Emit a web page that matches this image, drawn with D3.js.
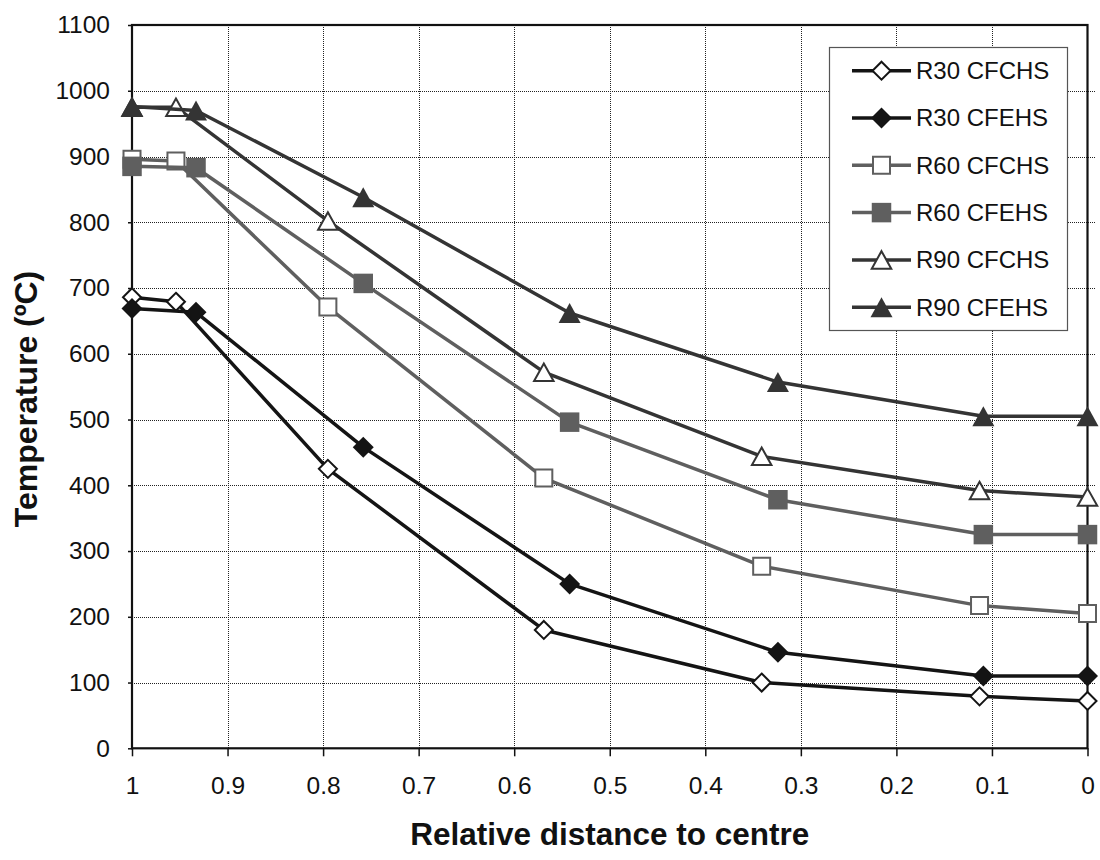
<!DOCTYPE html>
<html>
<head>
<meta charset="utf-8">
<script src="https://cdn.jsdelivr.net/npm/d3@7"></script>
<style>
  body { margin: 0; background: #fff; }
  svg { display: block; font-family: "Liberation Sans", Arial, sans-serif; }
</style>
</head>
<body>
<svg id="chart" width="1100" height="860"></svg>
<script>
// x positions of the measuring points (relative distance to centre)
var xCFCHS = [1, 0.954, 0.795, 0.569, 0.341, 0.113, 0];
var xCFEHS = [1, 0.933, 0.758, 0.542, 0.324, 0.109, 0];

// temperatures (ºC)
var r30CFCHS = [686, 679, 425, 180, 100, 79, 72];
var r30CFEHS = [669, 663, 458, 250, 146, 110, 110];
var r60CFCHS = [896, 893, 671, 411, 277, 217, 205];
var r60CFEHS = [885, 883, 707, 496, 378, 325, 325];
var r90CFCHS = [975, 975, 802, 572, 444, 392, 382];
var r90CFEHS = [976, 970, 838, 662, 557, 505, 505];

var seriesNames = ["R30 CFCHS", "R30 CFEHS", "R60 CFCHS", "R60 CFEHS", "R90 CFCHS", "R90 CFEHS"];

var xTicks = [1, 0.9, 0.8, 0.7, 0.6, 0.5, 0.4, 0.3, 0.2, 0.1, 0];
var yTicks = [0, 100, 200, 300, 400, 500, 600, 700, 800, 900, 1000, 1100];

var series = [
    {name: seriesNames[0], xs: xCFCHS, ys: r30CFCHS, color: "#141414", marker: "diamond", filled: false},
    {name: seriesNames[1], xs: xCFEHS, ys: r30CFEHS, color: "#141414", marker: "diamond", filled: true},
    {name: seriesNames[2], xs: xCFCHS, ys: r60CFCHS, color: "#5f5f5f", marker: "square", filled: false},
    {name: seriesNames[3], xs: xCFEHS, ys: r60CFEHS, color: "#5f5f5f", marker: "square", filled: true},
    {name: seriesNames[4], xs: xCFCHS, ys: r90CFCHS, color: "#343434", marker: "triangle", filled: false},
    {name: seriesNames[5], xs: xCFEHS, ys: r90CFEHS, color: "#343434", marker: "triangle", filled: true}
];

var svg = d3.select("#chart"),
    plotLeft = 132, plotRight = 1087.5, plotTop = 25, plotBottom = 748.3;

var x = d3.scaleLinear().domain([1, 0]).range([plotLeft, plotRight]);
var y = d3.scaleLinear().domain([0, 1100]).range([plotBottom, plotTop]);

// gridlines (snapped to the pixel grid so the dots stay sharp)
var grid = svg.append("g")
    .attr("stroke", "#222")
    .attr("stroke-width", 1)
    .attr("stroke-dasharray", "1,1")
    .attr("shape-rendering", "crispEdges");

grid.selectAll(".hgrid")
    .data(yTicks.slice(1, -1))
    .enter().append("line")
    .attr("x1", plotLeft)
    .attr("x2", plotRight + 8)
    .attr("y1", function (d) { return Math.round(y(d)) + 0.5; })
    .attr("y2", function (d) { return Math.round(y(d)) + 0.5; });

grid.selectAll(".vgrid")
    .data(xTicks.slice(1, -1))
    .enter().append("line")
    .attr("y1", plotTop)
    .attr("y2", plotBottom)
    .attr("x1", function (d) { return Math.round(x(d)) + 0.5; })
    .attr("x2", function (d) { return Math.round(x(d)) + 0.5; });

// axes
var xAxis = d3.axisBottom(x)
    .tickValues(xTicks)
    .tickFormat(function (d) { return String(d); })
    .tickSize(8)
    .tickSizeOuter(0)
    .tickPadding(20);

var yAxis = d3.axisLeft(y)
    .tickValues(yTicks)
    .tickFormat(function (d) { return String(d); })
    .tickSize(4)
    .tickSizeOuter(0)
    .tickPadding(18);

var gx = svg.append("g")
    .attr("transform", "translate(0," + plotBottom + ")")
    .call(xAxis);

var gy = svg.append("g")
    .attr("transform", "translate(" + plotLeft + ",0)")
    .call(yAxis);

[gx, gy].forEach(function (g) {
    g.select(".domain").remove();
    g.selectAll(".tick line").attr("stroke", "#111").attr("stroke-width", 1.5);
    g.selectAll(".tick text")
        .attr("fill", "#111")
        .style("font-size", "24.5px")
        .style("font-family", "'Liberation Sans', Arial, sans-serif");
});

// plot frame
svg.append("rect")
    .attr("x", plotLeft)
    .attr("y", plotTop)
    .attr("width", plotRight - plotLeft)
    .attr("height", plotBottom - plotTop)
    .attr("fill", "none")
    .attr("stroke", "#111")
    .attr("stroke-width", 2.2);

// markers
function markerPath(kind, filled) {
    var p = d3.path();
    if (kind === "diamond") {
        var r = filled ? 10.5 : 9;
        p.moveTo(0, -r); p.lineTo(r, 0); p.lineTo(0, r); p.lineTo(-r, 0); p.closePath();
    } else if (kind === "square") {
        var s = filled ? 19.5 : 17;
        p.rect(-s / 2, -s / 2, s, s);
    } else {
        var w = filled ? 22 : 19.5, h = filled ? 20 : 17.5;
        p.moveTo(0, -h / 2); p.lineTo(w / 2, h / 2); p.lineTo(-w / 2, h / 2); p.closePath();
    }
    return p.toString();
}

var line = d3.line()
    .x(function (d) { return x(d[0]); })
    .y(function (d) { return y(d[1]); });

series.forEach(function (s) {
    var pts = s.xs.map(function (v, i) { return [v, s.ys[i]]; });
    var g = svg.append("g");

    g.append("path")
        .datum(pts)
        .attr("d", line)
        .attr("fill", "none")
        .attr("stroke", s.color)
        .attr("stroke-width", 3.5)
        .attr("stroke-linejoin", "round");

    g.selectAll(".mk")
        .data(pts)
        .enter().append("path")
        .attr("transform", function (d) { return "translate(" + x(d[0]) + "," + y(d[1]) + ")"; })
        .attr("d", markerPath(s.marker, s.filled))
        .attr("fill", s.filled ? s.color : "#fff")
        .attr("stroke", s.filled ? "none" : s.color)
        .attr("stroke-width", s.filled ? 0 : 2);
});

// legend
var legend = svg.append("g");

legend.append("rect")
    .attr("x", 829.5)
    .attr("y", 47.5)
    .attr("width", 238)
    .attr("height", 283)
    .attr("fill", "#fff")
    .attr("stroke", "#555")
    .attr("stroke-width", 1.2);

var item = legend.selectAll(".item")
    .data(series)
    .enter().append("g")
    .attr("transform", function (d, i) { return "translate(0," + (70.7 + i * 47.3) + ")"; });

item.append("line")
    .attr("x1", 852)
    .attr("x2", 911)
    .attr("stroke", function (d) { return d.color; })
    .attr("stroke-width", 3.5);

item.append("path")
    .attr("transform", "translate(881.5,0)")
    .attr("d", function (d) { return markerPath(d.marker, d.filled); })
    .attr("fill", function (d) { return d.filled ? d.color : "#fff"; })
    .attr("stroke", function (d) { return d.filled ? "none" : d.color; })
    .attr("stroke-width", function (d) { return d.filled ? 0 : 2; });

item.append("text")
    .attr("x", 916)
    .attr("dy", "0.35em")
    .attr("fill", "#111")
    .style("font-size", "24px")
    .text(function (d) { return d.name; });

// axis titles
svg.append("text")
    .attr("x", (plotLeft + plotRight) / 2)
    .attr("y", 845)
    .attr("text-anchor", "middle")
    .attr("fill", "#111")
    .style("font-size", "31.5px")
    .style("font-weight", "bold")
    .text("Relative distance to centre");

svg.append("text")
    .attr("transform", "translate(37,399) rotate(-90)")
    .attr("text-anchor", "middle")
    .attr("fill", "#111")
    .style("font-size", "32px")
    .style("font-weight", "bold")
    .text("Temperature (ºC)");
</script>
</body>
</html>
